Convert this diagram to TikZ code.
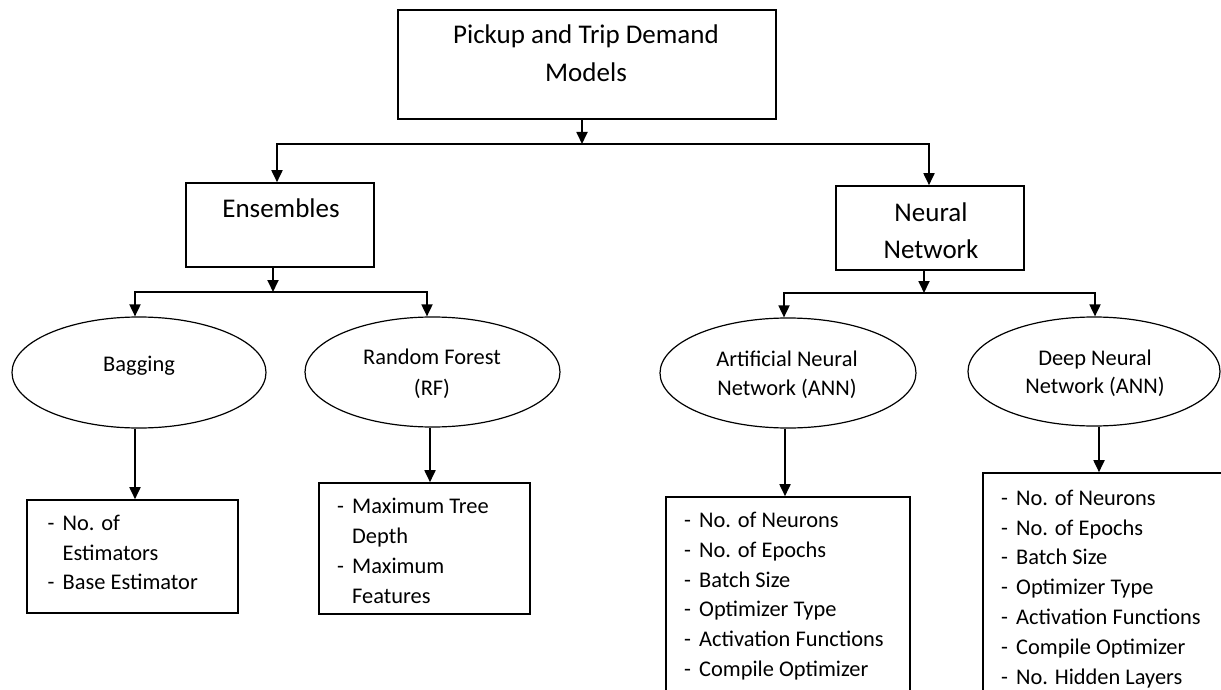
\documentclass[tikz,border=0pt]{standalone}
\usepackage{fontspec}
\setmainfont{Carlito}
\usetikzlibrary{arrows.meta,shapes.geometric}
\tikzset{
  box/.style={draw, line width=1.6pt, inner sep=0pt},
  oval/.style={draw, ellipse, line width=1.2pt, inner sep=0pt},
  big/.style={font=\fontsize{27}{38}\selectfont, anchor=base, inner sep=0pt},
  small/.style={font=\fontsize{22.4}{30}\selectfont, anchor=base, inner sep=0pt},
  item/.style={font=\fontsize{22.4}{30}\selectfont, anchor=base west, inner sep=0pt},
  conn/.style={line width=1.8pt, -{Triangle[length=12pt,width=11pt]}},
}
\newcommand\myitem[3]{\node[item] (#1) at (#2) {\makebox[15pt][l]{-}#3};}
\newcommand\mycont[3]{\node[item] (#1) at (#2) {\makebox[15pt][l]{}#3};}
\begin{document}
\begin{tikzpicture}[x=1pt,y=-1pt]
\clip (0,0) rectangle (1221,690);
\useasboundingbox (0,0) rectangle (1221,690);

% top
\node[box, minimum width=378pt, minimum height=109pt] (top) at (587,64.5) {};
\node[big] (topA) at (586,44) {Pickup and Trip Demand};
\node[big] (topB) at (586,82) {Models};

% second level
\node[box, minimum width=188pt, minimum height=84pt] (ens) at (280,225) {};
\node[big] (ensT) at (281,217) {Ensembles};
\node[box, minimum width=188pt, minimum height=84pt] (nn) at (930,228) {};
\node[big] (nnA) at (931,221) {Neural};
\node[big] (nnB) at (931,258) {Network};

% ellipses
\node[oval, minimum width=254pt, minimum height=111pt] (bag) at (139,372.5) {};
\node[small] (bagT) at (139,371) {Bagging};
\node[oval, minimum width=255pt, minimum height=110pt] (rf) at (432.5,372) {};
\node[small] (rfA) at (432,364) {Random Forest};
\node[small] (rfB) at (432,395) {(RF)};
\node[oval, minimum width=256pt, minimum height=110pt] (ann) at (788,373) {};
\node[small] (annA) at (787,366) {Artificial Neural};
\node[small] (annB) at (787,395) {Network (ANN)};
\node[oval, minimum width=252pt, minimum height=109pt] (dnn) at (1094,371.5) {};
\node[small] (dnnA) at (1095,365) {Deep Neural};
\node[small] (dnnB) at (1095,393) {Network (ANN)};

% boxes with lists
\node[box, minimum width=211pt, minimum height=113pt] (bagBox) at (132.5,556.5) {};
\myitem{b1}{47.5,530}{No. of}
\mycont{b2}{47.5,560}{Estimators}
\myitem{b3}{47.5,589}{Base Estimator}

\node[box, minimum width=211pt, minimum height=131pt] (rfBox) at (424.5,548.5) {};
\myitem{r1}{337,513}{Maximum Tree}
\mycont{r2}{337,543}{Depth}
\myitem{r3}{337,573}{Maximum}
\mycont{r4}{337,603}{Features}

\node[box, minimum width=244pt, minimum height=223pt] (annBox) at (788,608.5) {};
\myitem{a1}{684,527}{No. of Neurons}
\myitem{a2}{684,557}{No. of Epochs}
\myitem{a3}{684,587}{Batch Size}
\myitem{a4}{684,616}{Optimizer Type}
\myitem{a5}{684,646}{Activation Functions}
\myitem{a6}{684,676}{Compile Optimizer}

\node[box, minimum width=267pt, minimum height=247pt] (dnnBox) at (1116.5,596.5) {};
\myitem{d1}{1001,505}{No. of Neurons}
\myitem{d2}{1001,535}{No. of Epochs}
\myitem{d3}{1001,564}{Batch Size}
\myitem{d4}{1001,594}{Optimizer Type}
\myitem{d5}{1001,624}{Activation Functions}
\myitem{d6}{1001,654}{Compile Optimizer}
\myitem{d7}{1001,684}{No. Hidden Layers}

% junctions
\coordinate (j0) at (582,144);
\coordinate (jL) at (277,144);
\coordinate (jR) at (929,144);
\coordinate (j1) at (273,292);
\coordinate (j1L) at (135,292);
\coordinate (j1R) at (427,292);
\coordinate (j2) at (924,293);
\coordinate (j2L) at (784,293);
\coordinate (j2R) at (1095,293);

% connectors
\draw[conn] (top.south -| j0) -- (j0);
\draw[conn] (j0) -| (jL |- ens.north);
\draw[conn] (j0) -| (jR |- nn.north);

\draw[conn] (ens.south -| j1) -- (j1);
\draw[conn] (j1) -| (j1L |- bag.north);
\draw[conn] (j1) -| (j1R |- rf.north);

\draw[conn] (nn.south -| j2) -- (j2);
\draw[conn] (j2) -| (j2L |- ann.north);
\draw[conn] (j2) -| (j2R |- dnn.north);

\draw[conn] (bag.south -| bagBox.north) ++(2.5,0) coordinate (bs) -- (bs |- bagBox.north);
\draw[conn] (rf.south) ++(-2.5,0) coordinate (rs) -- (rs |- rfBox.north);
\draw[conn] (ann.south) ++(-3,0) coordinate (as) -- (as |- annBox.north);
\draw[conn] (dnn.south) ++(5,0) coordinate (ds) -- (ds |- dnnBox.north);
\end{tikzpicture}
\end{document}
